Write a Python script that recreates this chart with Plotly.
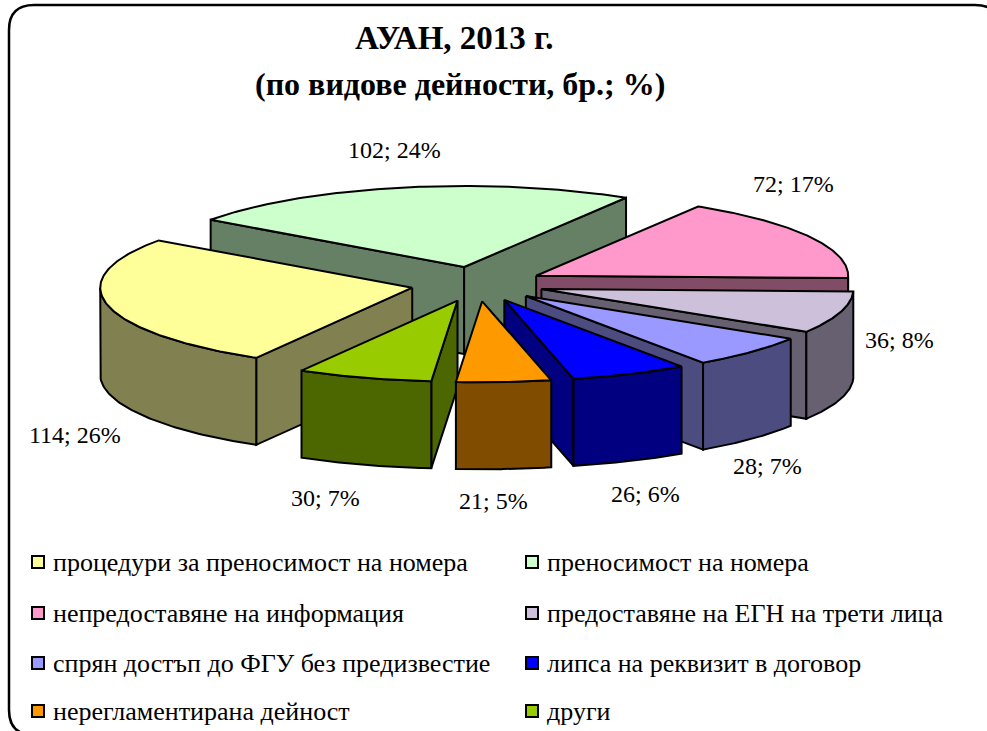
import numpy as np
import plotly.graph_objects as go

categories = ["процедури за преносимост на номера", "преносимост на номера",
              "непредоставяне на информация", "предоставяне на ЕГН на трети лица",
              "спрян достъп до ФГУ без предизвестие", "липса на реквизит в договор",
              "нерегламентирана дейност", "други"]
values = [114, 102, 72, 36, 28, 26, 21, 30]
percents = [26, 24, 17, 8, 7, 6, 5, 7]
top_colors = ["#FFFF99", "#CCFFCC", "#FF99CC", "#CCC0DA", "#9999FF", "#0000FF", "#FF9900", "#99CC00"]
side_colors = ["#808050", "#668066", "#804C66", "#666070", "#4C4C80", "#000080", "#804C00", "#4C6600"]
label_pos = [(75, 435), (394, 150), (793, 184), (899, 340), (767, 466), (645, 494), (493, 501), (325, 498)]

CX, CY, RX, RY, DEPTH, EXPLODE, START = 477.5, 284, 312, 81, 87, 0.214, 210
paint_order = [1, 2, 0, 3, 4, 7, 5, 6]

fractions = np.array(values) / sum(values)
edges = START + 360 * np.concatenate([[0], np.cumsum(fractions)])

fig = go.Figure()


def rim(a, ax, ay):
    r = np.radians(a)
    return ax + RX * np.sin(r), ay - RY * np.cos(r)


def poly(xs, ys, color):
    fig.add_trace(go.Scatter(x=list(xs) + [xs[0]], y=list(ys) + [ys[0]], mode="lines", fill="toself",
                             fillcolor=color, line=dict(color="black", width=2),
                             hoverinfo="skip", showlegend=False))


for i in paint_order:
    a0, a1 = edges[i], edges[i + 1]
    mid = np.radians((a0 + a1) / 2)
    ax = CX + EXPLODE * RX * np.sin(mid)
    ay = CY - EXPLODE * RY * np.cos(mid)
    # radial walls facing the viewer
    if np.sin(np.radians(a0)) < 0:
        px, py = rim(a0, ax, ay)
        poly([ax, px, px, ax], [ay, py, py + DEPTH, ay + DEPTH], side_colors[i])
    if np.sin(np.radians(a1)) > 0:
        px, py = rim(a1, ax, ay)
        poly([ax, px, px, ax], [ay, py, py + DEPTH, ay + DEPTH], side_colors[i])
    # outer wall: front half of the rim only
    for lo, hi in ((90, 270), (450, 630)):
        s, e = max(a0, lo), min(a1, hi)
        if e > s:
            t = np.linspace(s, e, 60)
            px, py = rim(t, ax, ay)
            poly(np.r_[px, px[::-1]], np.r_[py, py[::-1] + DEPTH], side_colors[i])
    # top face
    t = np.linspace(a0, a1, 120)
    px, py = rim(t, ax, ay)
    poly(np.r_[ax, px], np.r_[ay, py], top_colors[i])

FONT = "Liberation Serif"
for v, p, (lx, ly) in zip(values, percents, label_pos):
    fig.add_annotation(x=lx, y=ly, text=f"{v}; {p}%", showarrow=False,
                       font=dict(family=FONT, size=24, color="black"))

fig.add_annotation(x=454, y=38, text="<b>АУАН, 2013 г.</b>", showarrow=False,
                   font=dict(family=FONT, size=33, color="black"))
fig.add_annotation(x=460, y=84, text="<b>(по видове дейности, бр.; %)</b>", showarrow=False,
                   font=dict(family=FONT, size=32, color="black"))

rows = [562, 613, 663, 711]
cols = [38, 532]
for i, name in enumerate(categories):
    col, row = cols[i % 2], rows[i // 2]
    fig.add_trace(go.Scatter(x=[col], y=[row], mode="markers", hoverinfo="skip", showlegend=False,
                             marker=dict(symbol="square", size=12, color=top_colors[i],
                                         line=dict(color="black", width=2))))
    fig.add_annotation(x=col + 13, y=row, text=name, showarrow=False, xanchor="left",
                       font=dict(family=FONT, size=26, color="black"))

frame = "M 9 30 Q 9 5 34 5 L 975 5 Q 1000 5 1000 30 L 1000 710 Q 1000 735 975 735 L 34 735 Q 9 735 9 710 Z"
fig.add_shape(type="path", path=frame, xref="x", yref="y", line=dict(color="black", width=2.5),
              fillcolor="rgba(0,0,0,0)", layer="below")

fig.update_layout(width=987, height=731, margin=dict(l=0, r=0, t=0, b=0), autosize=False,
                  paper_bgcolor="white", plot_bgcolor="white", showlegend=False,
                  xaxis=dict(range=[0, 987], visible=False, fixedrange=True),
                  yaxis=dict(range=[731, 0], visible=False, fixedrange=True))

fig.write_html("out.html", config=dict(displayModeBar=False),
               post_script="document.body.style.margin='0';document.body.style.overflow='hidden';")
